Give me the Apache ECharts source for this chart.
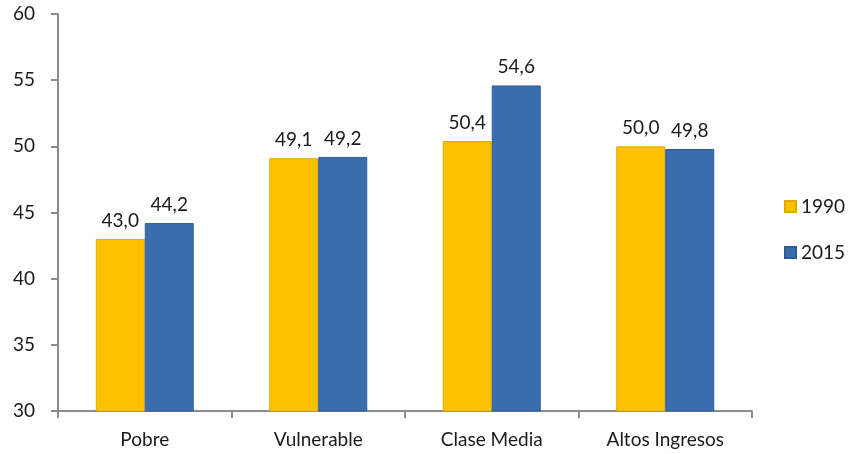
<!DOCTYPE html>
<html><head><meta charset="utf-8">
<script src="https://cdn.jsdelivr.net/npm/echarts@6/dist/echarts.min.js"></script>
<style>html,body{margin:0;padding:0;background:#fff}#c{width:848px;height:454px}</style>
</head><body><div id="c"></div>
<script>
var categories = ['Pobre', 'Vulnerable', 'Clase Media', 'Altos Ingresos'];
var seriesNames = ['1990', '2015'];
var values1990 = [43.0, 49.1, 50.4, 50.0];
var values2015 = [44.2, 49.2, 54.6, 49.8];
var colors = ['#FFC000', '#3A6DAD'];
var borders = ['#E0AA00', '#2F5C96'];
var font = 'Lato, "Open Sans", sans-serif';
var fs = 19;

function fmt(p){ return p.value.toFixed(1).replace('.', ','); }

var chart = echarts.init(document.getElementById('c'), null, {renderer:'canvas'});
chart.setOption({
  animation: false,
  grid: {left: 58, right: 96, top: 14, bottom: 43, containLabel: false},
  legend: {
    orient: 'vertical', left: 779, top: 192, itemWidth: 11, itemHeight: 11, itemGap: 27,
    icon: 'rect',
    textStyle: {fontFamily: font, fontSize: fs, color: '#1a1a1a'},
    data: seriesNames
  },
  xAxis: {
    type: 'category', data: categories,
    axisLine: {lineStyle: {color: '#8c8c8c', width: 2}},
    axisTick: {show: true, length: 7, lineStyle: {color: '#8c8c8c', width: 2}},
    axisLabel: {fontFamily: font, fontSize: fs, color: '#1a1a1a', margin: 19},
    splitLine: {show: false}
  },
  yAxis: {
    type: 'value', min: 30, max: 60, interval: 5,
    axisLine: {show: true, lineStyle: {color: '#8c8c8c', width: 2}},
    axisTick: {show: true, inside: false, length: 7, lineStyle: {color: '#8c8c8c', width: 2}},
    axisLabel: {fontFamily: font, fontSize: fs, color: '#1a1a1a', margin: 23},
    splitLine: {show: false}
  },
  series: [
    {name: seriesNames[0], type: 'bar', data: values1990, barWidth: 49, barGap: '0%',
     itemStyle: {color: colors[0], borderColor: borders[0], borderWidth: 1},
     label: {show: true, position: 'top', distance: 9, formatter: fmt, fontFamily: font, fontSize: fs, color: '#1a1a1a'}},
    {name: seriesNames[1], type: 'bar', data: values2015, barWidth: 49, barGap: '0%',
     itemStyle: {color: colors[1], borderColor: borders[1], borderWidth: 1},
     label: {show: true, position: 'top', distance: 9, formatter: fmt, fontFamily: font, fontSize: fs, color: '#1a1a1a'}}
  ]
});
</script></body></html>
